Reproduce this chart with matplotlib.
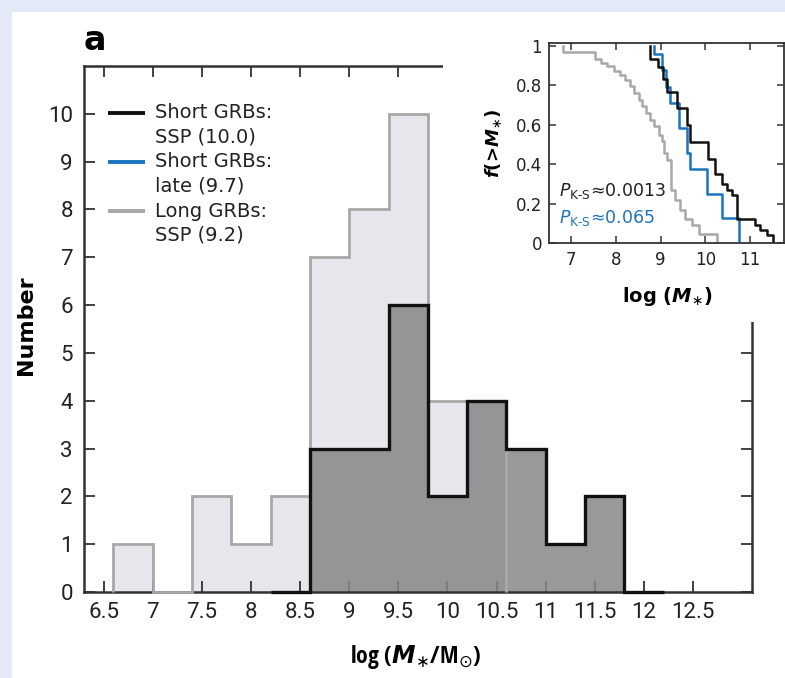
import matplotlib
matplotlib.use('Agg')
import matplotlib.pyplot as plt
from matplotlib import font_manager
from matplotlib.patches import Rectangle

# histogram data (bins of 0.4 dex)
long_edges = [6.6, 7.0, 7.4, 7.8, 8.2, 8.6, 9.0, 9.4, 9.8, 10.2, 10.6]
long_counts = [1, 0, 2, 1, 2, 7, 8, 10, 4, 4]
short_edges = [8.2, 8.6, 9.0, 9.4, 9.8, 10.2, 10.6, 11.0, 11.4, 11.8, 12.2]
short_counts = [0, 3, 3, 6, 2, 4, 3, 1, 2, 0]

# cumulative fractions f(>M) for the inset: step positions and level after each step
long_cdf_x = [6.81, 7.53, 7.66, 7.80, 7.95, 8.10, 8.21, 8.32, 8.40, 8.51, 8.58, 8.66,
              8.77, 8.84, 8.96, 9.03, 9.07, 9.15, 9.22, 9.33, 9.44, 9.55, 9.70, 9.85, 10.26]
long_cdf_f = [0.97, 0.934, 0.912, 0.895, 0.87, 0.853, 0.828, 0.794, 0.76, 0.726, 0.693, 0.659,
              0.625, 0.591, 0.549, 0.515, 0.455, 0.42, 0.267, 0.217, 0.166, 0.124, 0.09, 0.048, 0.0]
ssp_cdf_x = [8.77, 8.95, 9.06, 9.14, 9.37, 9.59, 9.66, 10.05, 10.22, 10.37, 10.48, 10.59,
             10.70, 11.11, 11.23, 11.37, 11.52]
ssp_cdf_f = [0.934, 0.89, 0.83, 0.768, 0.684, 0.60, 0.51, 0.428, 0.352, 0.30, 0.267, 0.242,
             0.124, 0.09, 0.064, 0.039, 0.0]
late_cdf_x = [8.85, 9.03, 9.12, 9.20, 9.40, 9.58, 9.66, 10.04, 10.37, 10.75]
late_cdf_f = [0.958, 0.875, 0.79, 0.708, 0.583, 0.458, 0.375, 0.25, 0.125, 0.0]

main_xticks = [6.5, 7, 7.5, 8, 8.5, 9, 9.5, 10, 10.5, 11, 11.5, 12, 12.5]
main_yticks = list(range(0, 11))
inset_xticks = [7, 8, 9, 10, 11]
inset_yticks = [0, 0.2, 0.4, 0.6, 0.8, 1.0]

legend_labels = [('Short GRBs:', 'SSP (10.0)'), ('Short GRBs:', 'late (9.7)'), ('Long GRBs:', 'SSP (9.2)')]

BLACK = '#111111'
BLUE = '#1b74bd'
GREY = '#a8a8a8'

# narrow bold face for the x label, slimmer regular face for the main tick labels
names = {f.name for f in font_manager.fontManager.ttflist}
narrow = 'DejaVu Sans'
for cand in ['Liberation Sans Narrow', 'Open Sans Condensed', 'Roboto Condensed']:
    if cand in names:
        narrow = cand
        break
tick_font = 'Roboto' if 'Roboto' in names else 'DejaVu Sans'

W, H = 785, 678
fig = plt.figure(figsize=(W / 100, H / 100), dpi=100)
fig.patch.set_facecolor('#e4e9f7')
fig.add_artist(Rectangle((12 / W, 0), (W - 12) / W, (H - 12) / H, transform=fig.transFigure,
                         facecolor='white', edgecolor='none', zorder=-1))

# main histogram
ax = fig.add_axes([84 / W, 1 - 592 / H, (752 - 84) / W, (592 - 66) / H])
ax.set_zorder(0)
ax.stairs(long_counts, long_edges, fill=True, color='#e6e6ec', zorder=1)
ax.stairs(short_counts, short_edges, fill=True, color='#878787', alpha=0.85, zorder=2)
ax.stairs(long_counts, long_edges, baseline=0, color=GREY, lw=2.0, zorder=3, clip_on=False)
ax.stairs(short_counts, short_edges, baseline=0, color=BLACK, lw=2.4, zorder=4, clip_on=False)

ax.set_xlim(6.3, 13.1)
ax.set_ylim(0, 11)
ax.set_xticks(main_xticks)
ax.set_xticklabels([f'{t:g}' for t in main_xticks])
ax.set_yticks(main_yticks)
ax.tick_params(direction='in', length=8, width=1.3, top=True, right=True,
               labelsize=16, color='#333333', labelcolor='#222222')
ax.tick_params(axis='x', pad=7)
ax.tick_params(axis='y', pad=8)
for lab in ax.get_xticklabels() + ax.get_yticklabels():
    lab.set_fontfamily(tick_font)
for sp in ax.spines.values():
    sp.set_linewidth(1.8)
    sp.set_color('#333333')

# legend drawn by hand so the line sits next to the first text line
leg_y = [0.911, 0.8175, 0.724]
for (l1, l2), y, c in zip(legend_labels, leg_y, [BLACK, BLUE, GREY]):
    ax.plot([0.036, 0.091], [y, y], transform=ax.transAxes, color=c, lw=2.8, solid_capstyle='butt')
    ax.text(0.106, y, l1, transform=ax.transAxes, fontsize=14, va='center', color='#222222')
    ax.text(0.106, y - 0.046, l2, transform=ax.transAxes, fontsize=14, va='center', color='#222222')

fig.text(84 / W, 1 - 50 / H, 'a', fontsize=24, fontweight='bold', va='baseline')
fig.text(26 / W, 1 - 325 / H, 'Number', fontsize=16, fontweight='bold', rotation=90,
         ha='center', va='center')
fig.text(416 / W, 1 - 663 / H, 'log ($\\mathbfit{M}_{\\ast}$/M$_{\\odot}$)', fontsize=17,
         fontweight='bold', family=narrow, ha='center', va='baseline')

# white box behind the inset hides part of the main frame
fig.add_artist(Rectangle((443 / W, 1 - 322 / H), (W - 443) / W, (322 - 12) / H,
                         transform=fig.transFigure, facecolor='white', edgecolor='none', zorder=1))

ins = fig.add_axes([549 / W, 1 - 243 / H, (784 - 549) / W, 200 / H])
ins.set_zorder(2)
for xs, fs, c in [(long_cdf_x, long_cdf_f, GREY), (late_cdf_x, late_cdf_f, BLUE),
                  (ssp_cdf_x, ssp_cdf_f, BLACK)]:
    ins.step([xs[0]] + xs, [1.0] + fs, where='post', color=c, lw=1.8)
ins.set_xlim(6.5, 11.76)
ins.set_ylim(0, 1.014)
ins.set_xticks(inset_xticks)
ins.set_yticks(inset_yticks)
ins.set_yticklabels([f'{t:g}' for t in inset_yticks])
ins.tick_params(direction='in', length=5, width=1.1, top=True, right=True,
                labelsize=12, pad=5, color='#333333', labelcolor='#222222')
ins.tick_params(axis='x', pad=6)
for sp in ins.spines.values():
    sp.set_linewidth(1.3)
    sp.set_color('#333333')

ins.text(6.72, 0.24, '$P_{\\mathrm{K\u2010S}}$\u22480.0013', fontsize=12.5, color='#222222', va='baseline')
ins.text(6.72, 0.10, '$P_{\\mathrm{K\u2010S}}$\u22480.065', fontsize=12.5, color=BLUE, va='baseline')

fig.text(494 / W, 1 - 143 / H, '$\\mathbfit{f}$(>$\\mathbfit{M}_{\\ast}$)', fontweight='bold',
         fontsize=13, rotation=90, ha='center', va='center')
fig.text(667 / W, 1 - 302 / H, 'log ($\\mathbfit{M}_{\\ast}$)', fontsize=14, fontweight='bold',
         ha='center', va='baseline')

fig.savefig('out.png', dpi=100, facecolor=fig.get_facecolor())
